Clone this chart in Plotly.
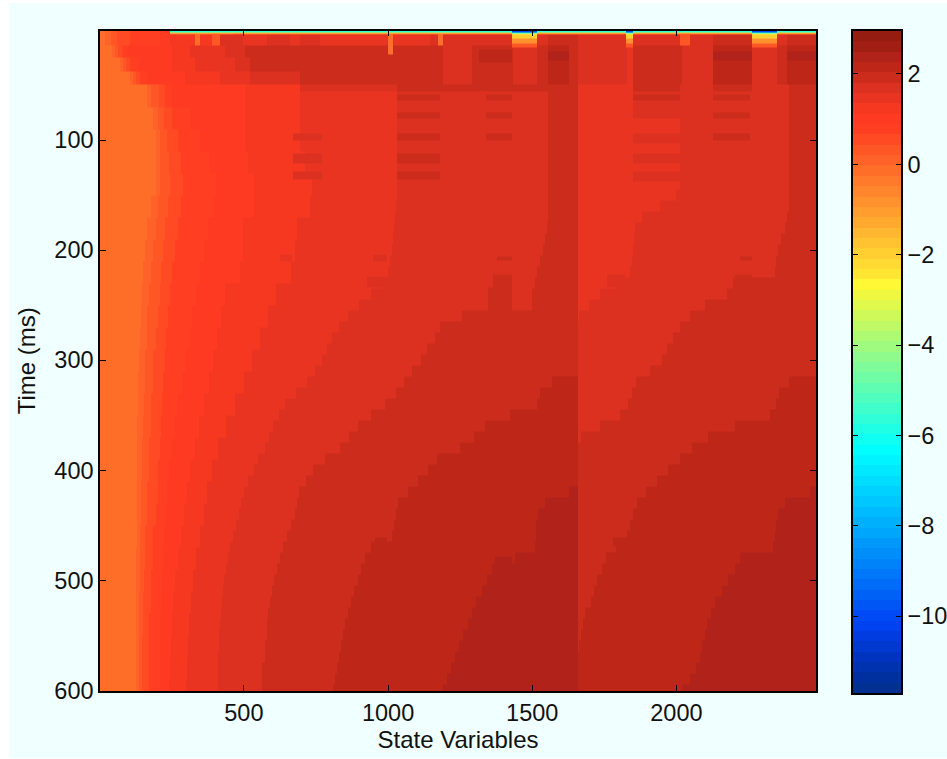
import numpy as np
import plotly.graph_objects as go

# Colour bar range and its 64 colour bands (index 0 = lowest)
value_min = -11.7
value_max = 2.95
band_colors = [
    "#003090", "#0030a0", "#0032b0", "#0034c0", "#0038d0", "#003ce0", "#0042f0", "#004af5",
    "#0055f5", "#0061f6", "#006cf7", "#0077f8", "#0083f9", "#008efa", "#0099fb", "#00a5fc",
    "#00b0fd", "#00bbff", "#00c7ff", "#00d2ff", "#00ddff", "#00e9ff", "#00f4ff", "#00ffff",
    "#0ffff2", "#1fffe5", "#2ffed9", "#3ffecc", "#4ffdbf", "#5ffdb2", "#6ffca5", "#7ffc99",
    "#8ffb8c", "#9ffb7f", "#affa73", "#bffa66", "#cff959", "#dff94c", "#eff840", "#fff834",
    "#ffe632", "#ffda32", "#ffce30", "#ffc230", "#ffb630", "#ffaa2e", "#ff9e2e", "#ff922c",
    "#ff862c", "#ff7a2a", "#ff6e28", "#ff6228", "#ff5626", "#ff4a24", "#ff3e22", "#ff3a22",
    "#f63820", "#e83420", "#dc3020", "#cc2c1c", "#be2618", "#b0221a", "#a01e12", "#941c10",
]

# Time (ms) limits of the rows read for the narrow left-hand bands
coarse_edges = [0.5, 14, 25, 38, 50] + list(range(70, 591, 20)) + [600.5]
# Time (ms) limits of the rows read for the wider bands
fine_edges = [0.5, 14, 25, 38, 50] + list(range(75, 596, 10)) + [600.5]

# Left of state variable 1660: where each colour band starts, per coarse row
band_51 = [20,43,70,105,164,185,192,192,192,181,167,157,150,147,143,140,136,133,133,129,129,129,129,129,129,126,126,126,126,126,126,126]
band_52 = [40,53,81,115,180,199,206,209,209,202,192,185,178,171,167,164,160,157,154,150,147,147,143,143,140,140,140,136,136,136,136,136]
band_53 = [60,63,91,126,205,223,233,240,244,237,226,219,212,206,199,195,188,185,181,178,174,171,167,164,160,157,154,150,150,147,147,147]
band_54 = [105,77,105,140,226,251,271,282,289,282,271,261,251,244,237,230,226,219,216,212,209,202,199,192,188,185,181,178,174,174,171,171]
band_55 = [209,98,133,167,251,313,348,382,403,393,375,362,348,334,320,310,299,285,271,258,247,240,233,226,223,219,216,212,209,209,206,206]
band_56 = [244,251,251,296,504,504,504,514,538,538,497,497,486,434,421,407,393,379,362,344,330,313,303,292,282,271,261,254,251,247,244,240]
band_57 = [497,313,330,417,694,694,694,712,736,729,684,677,663,611,583,556,528,500,469,438,410,389,372,362,348,334,323,317,310,306,303,299]

# Per fine row
band_58 = [1145,434,469,521,1031,
           1031,1031,1031,1031,1031,1031,1031,1029,1027,1024,1020,1017,1013,1007,999,975,944,900,861,830,805,788,771,748,719,680,
           642,620,601,585,570,552,535,517,500,491,483,472,462,453,445,438,431,427,424,420,417,415,414,412,410,410,410]
band_59 = [9999,504,521,694,1554,
           1554,1554,1554,1554,1554,1554,1554,1554,1554,1554,1551,1545,1537,1527,1516,1510,1498,1498,1256,1180,1162,1135,1114,1083,1055,1027,
           989,944,896,864,833,781,739,715,691,684,677,663,649,635,625,615,604,597,590,583,580,577,573,570,566,563,563]
band_60 = [9999] * 29 + [1568,1526,1516,1422,1336,1301,1252,1169,1138,1103,1069,1034,1027,1020,1013,941,923,909,896,882,871,861,850,844,837,830,823,816,809]
band_61 = [9999] * 39 + [1630,1544,1520,1513,1513,1509,1440,1360,1343,1325,1308,1291,1277,1260,1246,1232,1218,1204,1190]

# From state variable 1660 onward (the base there is band 57), per fine row
right_58 = [1660,1660,1660,1660,1849,
            2012,2012,2012,2012,2012,2012,2012,2000,1942,1880,1856,1852,1849,1845,1839,1790,1735,1700,1665] + [1660] * 34
right_59 = [9999,9999,9999,9999,2393,
            2393,2393,2393,2393,2393,2393,2393,2393,2393,2385,2376,2365,2352,2345,2341,
            2196,2175,2099,2047,2012,1988,1967,1949,1908,1859,1845,1832,1804,1735,1672] + [1660] * 23
right_60 = [9999] * 29 + [2393,2358,2345,2324,2203,2109,2054,2012,1970,1932,1894,1863,1849,1839,1828,1790,1755,1741,1724,1714,1703,1686,1676,1669,1665,1660,1660,1660,1660]
right_61 = [9999] * 39 + [2463,2376,2352,2345,2341,2334,2220,2203,2178,2157,2133,2119,2105,2099,2088,2081,2071,2047,2022]

# Local features: state variable from/to, time from/to, colour band
patch_x0 = [244,244,244, 331,389,462,999,1173,2012, 417,579,694, 1554,2126,2383,
            1190,1318,1433,1554,1630,1828,1849,2126,2262,2348,2383, 1554,2126,2383,
            1031,1031,1031,1031,1031, 670,670,670, 1339,1339,1339,
            1849,1849,1849,1849,1849, 2126,2126,2126,
            947,927,625, 1364,1346,2203,1759,1378,2220, 1370,1780,954,
            694,1031,1849,2012,2126]
patch_x1 = [2484,2484,2484, 349,417,497,1017,1190,2047, 497,659,763, 1660,2262,2484,
            1294,1429,1516,1630,1660,1849,2022,2262,2348,2383,2484, 1630,2262,2484,
            1180,1180,1180,1180,1180, 771,771,771, 1429,1429,1429,
            2012,2012,2012,2012,2012, 2255,2255,2255,
            996,996,667, 1429,1429,2262,1821,1429,2262, 1429,1828,996,
            1031,1554,2012,2126,2262]
patch_t0 = [0.5,2.2,3.2, 3.2,3.2,3.2,3.2,3.2,3.2, 4.5,4.5,4.5, 4.5,4.5,4.5,
            14,18,14,14,14,14,14,14,14,14,14, 20,20,20,
            59,75,94,112,129, 94,112,129, 59,75,94,
            59,75,94,112,129, 59,75,94,
            204,224,204, 222,234,222,222,206,206, 478,461,461,
            50,50,50,50,50]
patch_t1 = [2.2,3.2,4.5, 14,14,14,22,14,14, 14,14,14, 14,14,14,
            50,30,50,50,50,50,50,50,50,50,50, 28,28,28,
            64,80,100,121,136, 100,121,136, 64,80,100,
            64,80,103,121,138, 64,80,100,
            210,234,210, 234,257,257,234,209,209, 500,469,469,
            56,56,56,56,56]
patch_band = [26,42,50, 50,52,52,50,50,52, 58,58,58, 59,59,59,
              58,60,58,60,59,57,59,60,58,59,60, 61,61,61,
              59,59,59,59,59, 58,58,58, 59,59,59,
              59,58,58,58,58, 59,59,59,
              58,58,57, 59,59,59,58,59,59, 61,60,60,
              58,59,59,58,59]

# Light columns at the very top, fading downward
light_x0 = [1429, 1825, 2262]
light_x1 = [1516, 1849, 2348]
light_t0 = [0.5, 2.2, 3.2, 4.5, 8, 12]
light_t1 = [2.2, 3.2, 4.5, 8, 12, 16]
light_band = [7, 26, 38, 42, 47, 52]

x_ticks = [500, 1000, 1500, 2000]
y_ticks = [100, 200, 300, 400, 500, 600]
bar_ticks = [-10, -8, -6, -4, -2, 0, 2]

n_bands = len(band_colors)
band_step = (value_max - value_min) / n_bands

# Build the band grid
coarse = np.array([band_51, band_52, band_53, band_54, band_55, band_56, band_57])
fine = np.array([band_58, band_59, band_60, band_61])
right = np.array([right_58, right_59, right_60, right_61])
x_edges = np.arange(1, 2484.1, 3.5)
t_edges = np.unique(np.array(coarse_edges + fine_edges + patch_t0 + patch_t1 + light_t0 + light_t1, dtype=float))
x_mid = (x_edges[:-1] + x_edges[1:]) / 2
t_mid = (t_edges[:-1] + t_edges[1:]) / 2

grid = np.zeros((len(t_mid), len(x_mid)), dtype=int)
coarse_row = np.searchsorted(np.array(coarse_edges), t_mid) - 1
fine_row = np.searchsorted(np.array(fine_edges), t_mid) - 1
for i, (rc, rf) in enumerate(zip(coarse_row, fine_row)):
    lv = 50 + (coarse[:, rc][:, None] <= x_mid).sum(axis=0) + (fine[:, rf][:, None] <= x_mid).sum(axis=0)
    rv = 57 + (right[:, rf][:, None] <= x_mid).sum(axis=0)
    grid[i] = np.where(x_mid < 1660, lv, rv)


def paint(x0, x1, t0, t1, band):
    grid[np.ix_((t_mid >= t0) & (t_mid < t1), (x_mid >= x0) & (x_mid < x1))] = band


for p in zip(patch_x0, patch_x1, patch_t0, patch_t1, patch_band):
    paint(*p)
for cx0, cx1 in zip(light_x0, light_x1):
    for p in zip(light_t0, light_t1, light_band):
        paint(cx0, cx1, *p)

z = np.round(value_min + (grid + 0.5) * band_step, 3)

scale = []
for k, c in enumerate(band_colors):
    scale.append([k / n_bands, c])
    scale.append([(k + 1) / n_bands, c])

bar_levels = value_min + (np.arange(n_bands + 1)) * band_step
bar_z = (bar_levels[:-1] + bar_levels[1:]) / 2

W, H = 947, 759
FONT = "Liberation Sans"
fig = go.Figure()
fig.add_trace(go.Heatmap(x=x_edges, y=t_edges, z=z, colorscale=scale,
                         zmin=value_min, zmax=value_max, showscale=False,
                         hoverinfo="skip"))
fig.add_trace(go.Heatmap(x=[0, 1], y=bar_levels, z=[[v] for v in bar_z], colorscale=scale,
                         zmin=value_min, zmax=value_max, showscale=False,
                         xaxis="x2", yaxis="y2", hoverinfo="skip"))

axis_common = dict(showgrid=False, zeroline=False, showline=True, linecolor="black",
                   linewidth=1.5, mirror="ticks", ticks="inside", tickcolor="black",
                   tickwidth=1, ticklen=6, tickfont=dict(family=FONT, size=23.5, color="#111111"))

fig.update_layout(
    width=W, height=H, autosize=False,
    margin=dict(l=0, r=0, t=0, b=0, pad=0),
    paper_bgcolor="white", plot_bgcolor="white", showlegend=False,
    font=dict(family=FONT, color="black"),
    xaxis=dict(domain=[100 / W, 816 / W], range=[1, 2484], tickvals=x_ticks,
               title=dict(text="State Variables", font=dict(family=FONT, size=24, color="#111111"), standoff=4),
               anchor="y", automargin=False, **axis_common),
    yaxis=dict(domain=[1 - 691 / H, 1 - 30.5 / H], range=[600.5, 0.5], tickvals=y_ticks,
               title=dict(text="Time (ms)", font=dict(family=FONT, size=24, color="#111111"), standoff=12),
               anchor="x", automargin=False, **axis_common),
    xaxis2=dict(domain=[853 / W, 901 / W], range=[0, 1], showticklabels=False, showgrid=False,
                zeroline=False, showline=True, linecolor="black", linewidth=1.5, mirror=True,
                ticks="", anchor="y2"),
    yaxis2=dict(domain=[1 - 693 / H, 1 - 31 / H], range=[value_min, value_max], tickvals=bar_ticks,
                side="right", anchor="x2", automargin=False, **{**axis_common, "ticklen": 5}),
    shapes=[dict(type="rect", xref="paper", yref="paper", x0=9 / W, x1=1, y0=1 - 758 / H, y1=1 - 3 / H,
                 fillcolor="#f0ffff", line=dict(width=0), layer="below")],
)

fig.write_html("out.html", config={"displayModeBar": False},
               post_script="document.body.style.margin='0';document.body.style.overflow='hidden';")
